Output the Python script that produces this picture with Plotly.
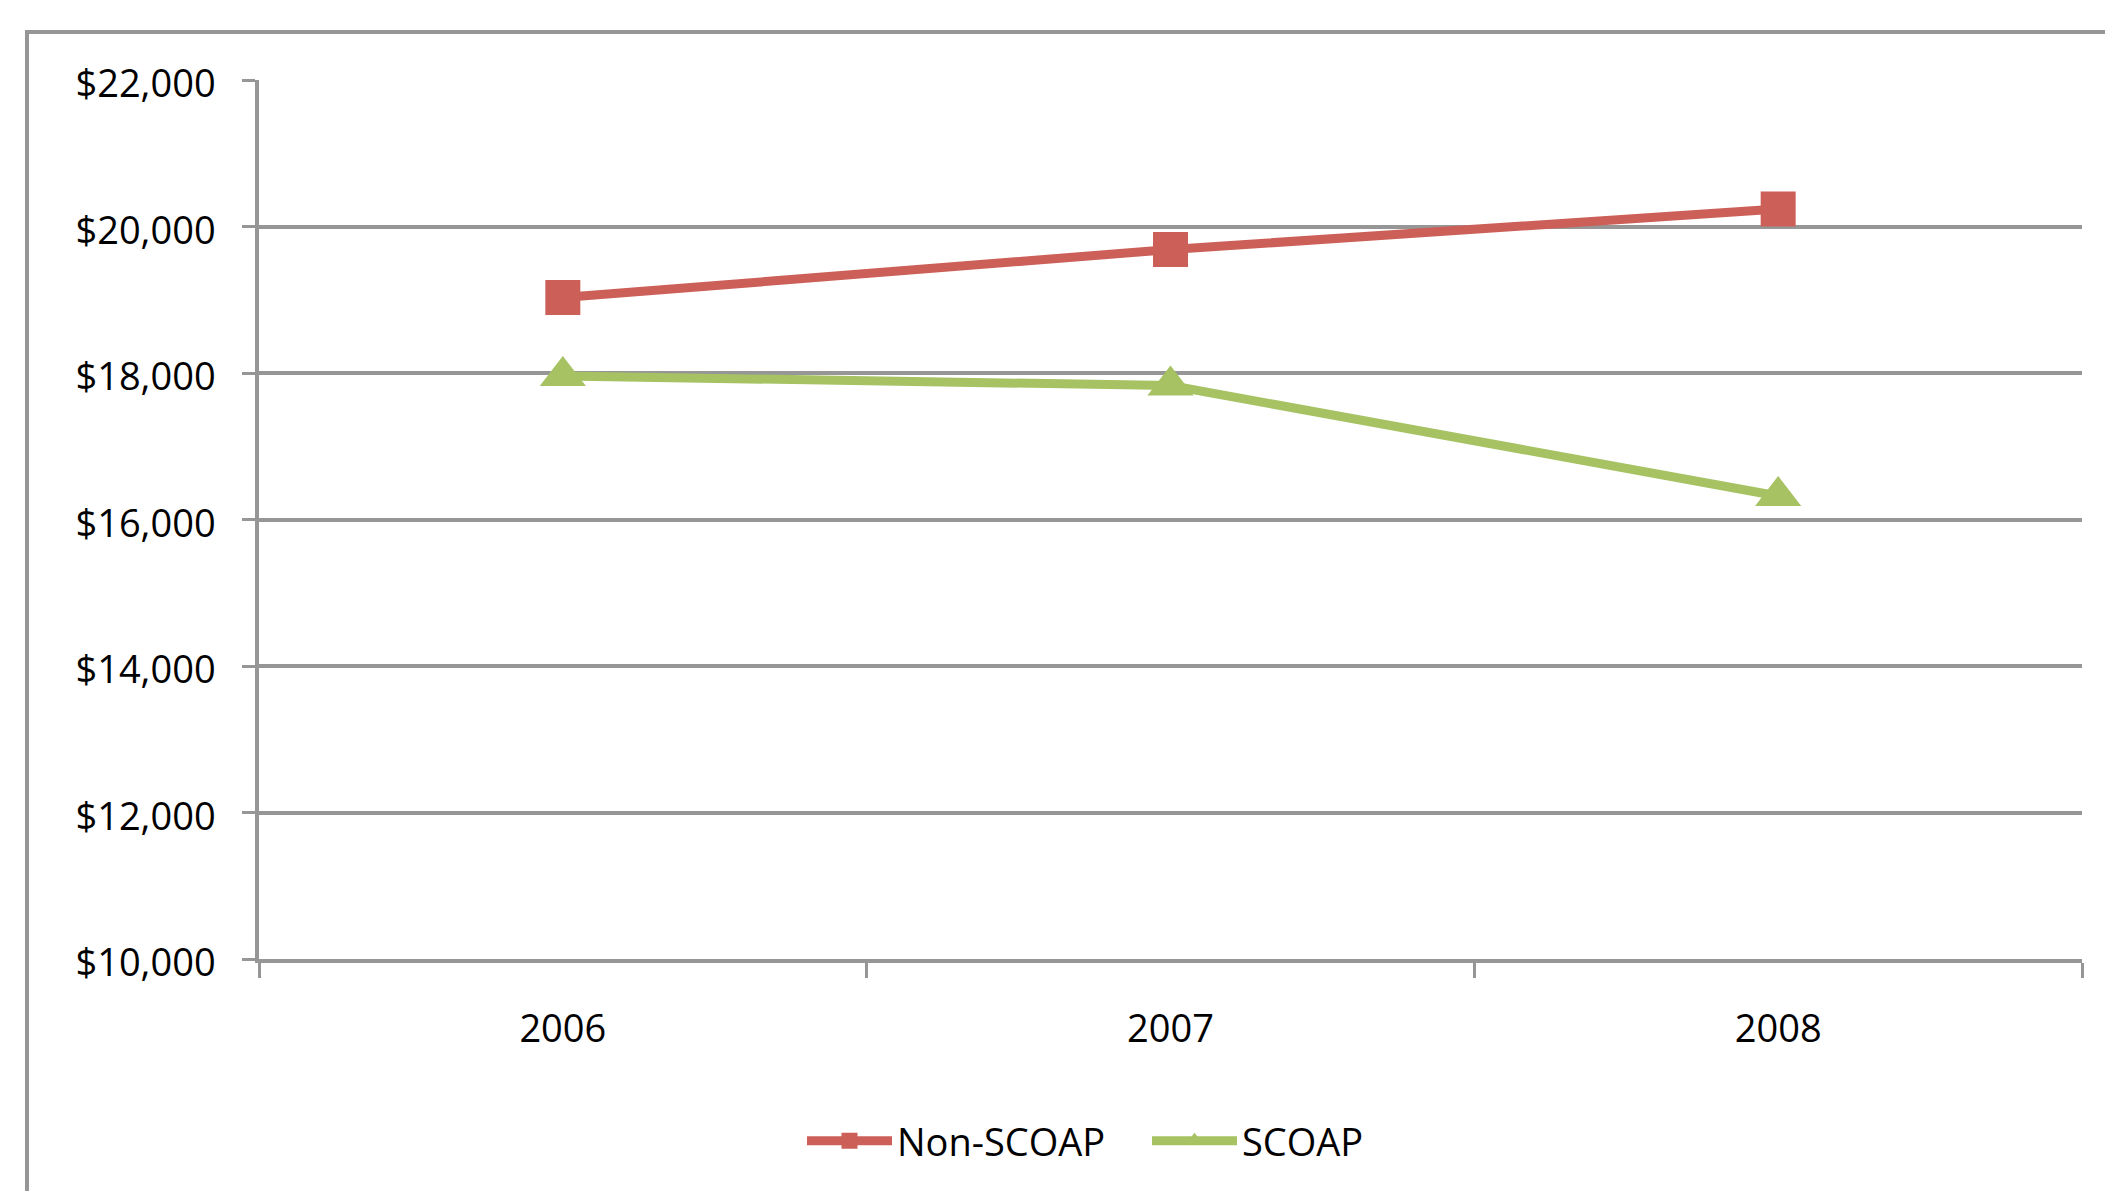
import plotly.graph_objects as go

years = ["2006", "2007", "2008"]
non_scoap = [19030, 19686, 20239]
scoap = [17959, 17829, 16321]
y_ticks = [10000, 12000, 14000, 16000, 18000, 20000, 22000]
y_tick_labels = ["$10,000", "$12,000", "$14,000", "$16,000", "$18,000", "$20,000", "$22,000"]

RED = "#CC5F58"
GREEN = "#A6C262"
GRID = "#969696"
FONT = "Open Sans"

OFF = 8  # page body margin offset
W, H = 2113, 1191
L, R, T, B = 259 - OFF, 31 + OFF, 80 - OFF, 232 + OFF
pw, ph = W - L - R, H - T - B


def px_to_paper_x(px):
    return (px - OFF - L) / pw


def px_to_paper_y(py):
    return (H - B - (py - OFF)) / ph


fig = go.Figure()
fig.add_trace(go.Scatter(
    x=years, y=non_scoap, name="Non-SCOAP", mode="lines+markers",
    line=dict(color=RED, width=9),
    marker=dict(symbol="square", size=35, color=RED),
))
fig.add_trace(go.Scatter(
    x=years, y=scoap, name="SCOAP", mode="lines+markers",
    line=dict(color=GREEN, width=9),
    marker=dict(symbol="triangle-up", size=40, color=GREEN),
))

# outer chart-area frame (cropped at right and bottom)
fig.add_shape(type="rect", xref="paper", yref="paper",
              x0=px_to_paper_x(27), x1=px_to_paper_x(W + 30),
              y0=px_to_paper_y(H + 30), y1=px_to_paper_y(32),
              line=dict(color=GRID, width=4), fillcolor="rgba(0,0,0,0)",
              layer="below")

fig.update_layout(
    width=W, height=H,
    margin=dict(l=L, r=R, t=T, b=B, pad=0),
    paper_bgcolor="white", plot_bgcolor="white",
    font=dict(family=FONT, size=38, color="black"),
    showlegend=True,
    legend=dict(orientation="h", x=px_to_paper_x(1147), y=px_to_paper_y(1141),
                xanchor="center", yanchor="middle",
                font=dict(family=FONT, size=38, color="black"),
                itemwidth=85, entrywidth=245, entrywidthmode="pixels",
                tracegroupgap=0, bgcolor="rgba(0,0,0,0)"),
    xaxis=dict(type="category", range=[-0.5, 2.5], tickson="boundaries", ticks="outside",
               ticklen=15, tickwidth=3, tickcolor=GRID,
               showline=True, linecolor=GRID, linewidth=3.5,
               showgrid=False, zeroline=False,
               ticklabelstandoff=34,
               tickfont=dict(family=FONT, size=38, color="black")),
    yaxis=dict(range=[10000, 22000], tickvals=y_ticks, ticktext=y_tick_labels,
               ticks="outside", ticklen=13, tickwidth=3, tickcolor=GRID,
               showline=True, linecolor=GRID, linewidth=3.5,
               showgrid=True, gridcolor=GRID, gridwidth=3.5,
               zeroline=False, ticklabelstandoff=19, ticklabelshift=4,
               tickfont=dict(family=FONT, size=38, color="black")),
)

fig.write_html("out.html")
